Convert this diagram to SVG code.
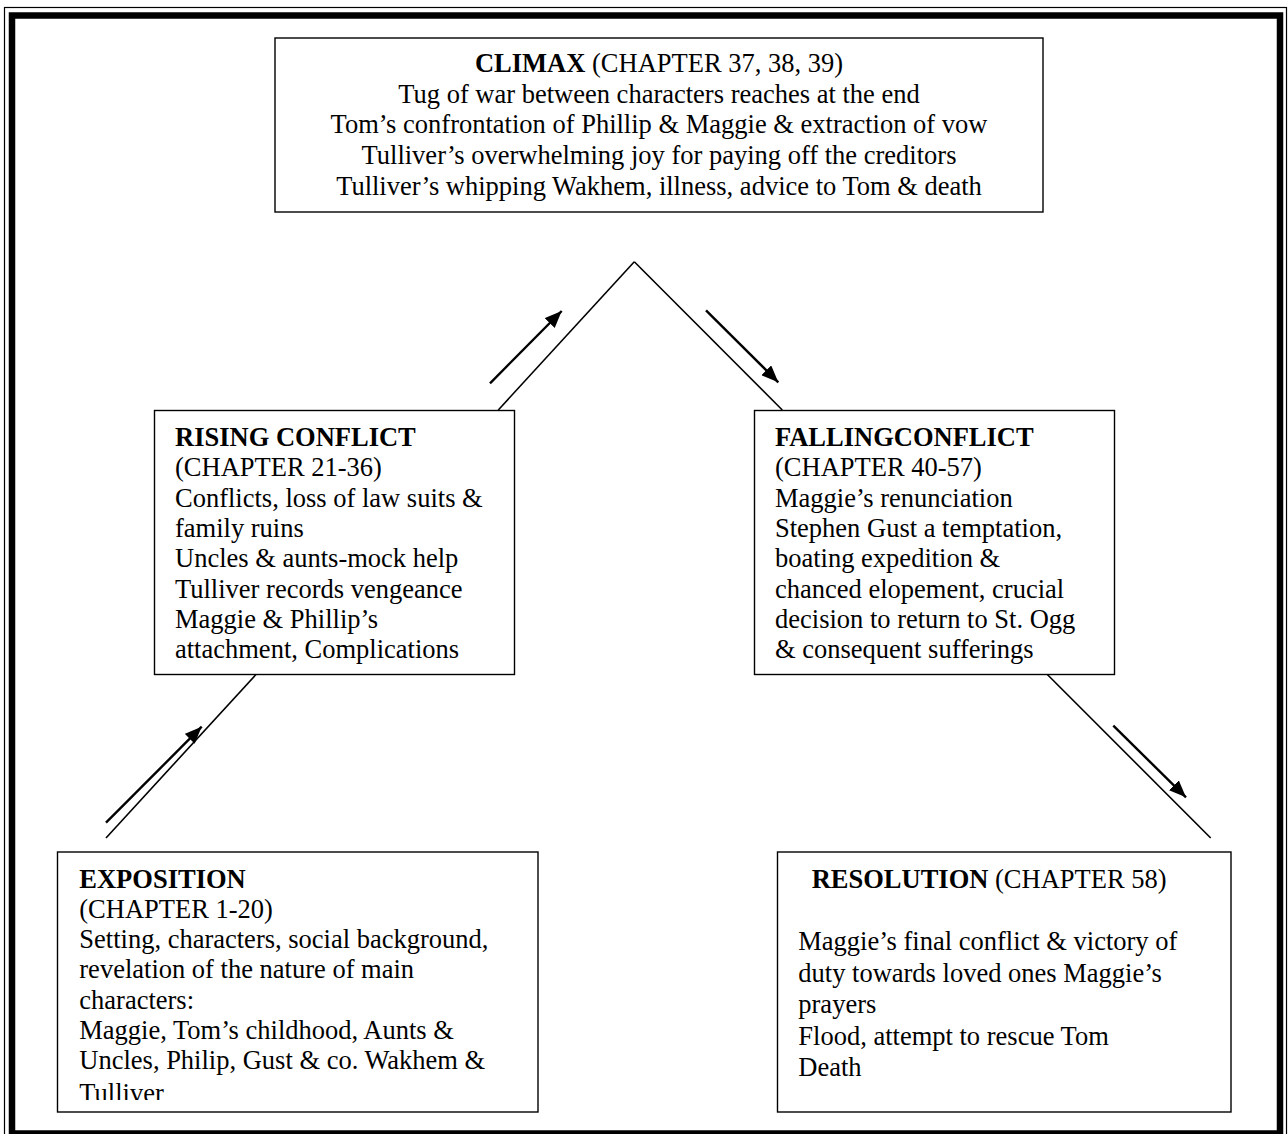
<svg xmlns="http://www.w3.org/2000/svg" width="1288" height="1134" viewBox="0 0 1288 1134">
  <style>
    .box { fill: #ffffff; stroke: #000000; stroke-width: 1.4; }
    .t { font-family: "Liberation Serif", "Times New Roman", serif; font-size: 26.5px; fill: #000000; }
    .b { font-weight: bold; }
    .edge { fill: none; stroke: #000000; stroke-width: 1.6; }
    .arrow { fill: none; stroke: #000000; stroke-width: 2.4; marker-end: url(#head); }
  </style>
  <defs>
    <marker id="head" markerUnits="userSpaceOnUse" markerWidth="18" markerHeight="14" refX="17" refY="7" orient="auto">
      <path d="M0,0 L17,7 L0,14 z" fill="#000000"/>
    </marker>
    <clipPath id="expClip">
      <rect x="58" y="852" width="480" height="248"/>
    </clipPath>
  </defs>

  <rect width="1288" height="1134" fill="#ffffff"/>

  <!-- page border: thin outer rule with a thick rule inside -->
  <g id="page-border">
    <rect x="4.5" y="7.5" width="1282" height="1140" fill="none" stroke="#000000" stroke-width="1.2"/>
    <rect x="12" y="15.5" width="1268" height="1118" fill="none" stroke="#000000" stroke-width="6.5"/>
  </g>

  <!-- connectors: the plot pyramid and direction arrows -->
  <g id="connectors">
    <line class="edge" x1="256" y1="674.5" x2="106" y2="838"/>
    <line class="edge" x1="498.3" y1="410" x2="634.3" y2="261.7"/>
    <line class="edge" x1="634.3" y1="261.7" x2="782.3" y2="410"/>
    <line class="edge" x1="1047.3" y1="674.5" x2="1210.7" y2="838"/>
    <line class="arrow" x1="106" y1="822.7" x2="201.7" y2="726.7"/>
    <line class="arrow" x1="490" y1="383.3" x2="561.7" y2="311"/>
    <line class="arrow" x1="706" y1="310.3" x2="778.3" y2="382.3"/>
    <line class="arrow" x1="1113.3" y1="725.7" x2="1186" y2="797.3"/>
  </g>

  <g id="climax">
    <rect class="box" x="275" y="38" width="768" height="174"/>
    <text class="t" text-anchor="middle" x="659" y="72"><tspan class="b">CLIMAX</tspan> (CHAPTER 37, 38, 39)</text>
    <text class="t" text-anchor="middle" x="659" y="102.7">Tug of war between characters reaches at the end</text>
    <text class="t" text-anchor="middle" x="659" y="133.3">Tom’s confrontation of Phillip &amp; Maggie &amp; extraction of vow</text>
    <text class="t" text-anchor="middle" x="659" y="164">Tulliver’s overwhelming joy for paying off the creditors</text>
    <text class="t" text-anchor="middle" x="659" y="194.5">Tulliver’s whipping Wakhem, illness, advice to Tom &amp; death</text>
  </g>

  <g id="rising-conflict">
    <rect class="box" x="154.5" y="410.5" width="360" height="264"/>
    <text class="t b" x="175" y="446">RISING CONFLICT</text>
    <text class="t" x="175" y="476.3">(CHAPTER 21-36)</text>
    <text class="t" x="175" y="506.6">Conflicts, loss of law suits &amp;</text>
    <text class="t" x="175" y="536.9">family ruins</text>
    <text class="t" x="175" y="567.2">Uncles &amp; aunts-mock help</text>
    <text class="t" x="175" y="597.5">Tulliver records vengeance</text>
    <text class="t" x="175" y="627.8">Maggie &amp; Phillip’s</text>
    <text class="t" x="175" y="658.1">attachment, Complications</text>
  </g>

  <g id="falling-conflict">
    <rect class="box" x="754.5" y="410.5" width="360" height="264"/>
    <text class="t b" x="775" y="446">FALLINGCONFLICT</text>
    <text class="t" x="775" y="476.3">(CHAPTER 40-57)</text>
    <text class="t" x="775" y="506.6">Maggie’s renunciation</text>
    <text class="t" x="775" y="536.9">Stephen Gust a temptation,</text>
    <text class="t" x="775" y="567.2">boating expedition &amp;</text>
    <text class="t" x="775" y="597.5">chanced elopement, crucial</text>
    <text class="t" x="775" y="627.8">decision to return to St. Ogg</text>
    <text class="t" x="775" y="658.1">&amp; consequent sufferings</text>
  </g>

  <g id="exposition">
    <rect class="box" x="57.5" y="852" width="480.5" height="260"/>
    <g clip-path="url(#expClip)">
      <text class="t b" x="79.3" y="887.7">EXPOSITION</text>
      <text class="t" x="79.3" y="917.9">(CHAPTER 1-20)</text>
      <text class="t" x="79.3" y="948.1">Setting, characters, social background,</text>
      <text class="t" x="79.3" y="978.3">revelation of the nature of main</text>
      <text class="t" x="79.3" y="1008.5">characters:</text>
      <text class="t" x="79.3" y="1038.7">Maggie, Tom’s childhood, Aunts &amp;</text>
      <text class="t" x="79.3" y="1068.9">Uncles, Philip, Gust &amp; co. Wakhem &amp;</text>
      <text class="t" x="79.3" y="1101.5">Tulliver</text>
    </g>
  </g>

  <g id="resolution">
    <rect class="box" x="777.5" y="852" width="453.5" height="260"/>
    <text class="t" x="811.7" y="887.7"><tspan class="b">RESOLUTION</tspan> (CHAPTER 58)</text>
    <text class="t" x="798.3" y="950">Maggie’s final conflict &amp; victory of</text>
    <text class="t" x="798.3" y="981.5">duty towards loved ones Maggie’s</text>
    <text class="t" x="798.3" y="1013">prayers</text>
    <text class="t" x="798.3" y="1044.5">Flood, attempt to rescue Tom</text>
    <text class="t" x="798.3" y="1076">Death</text>
  </g>
</svg>
